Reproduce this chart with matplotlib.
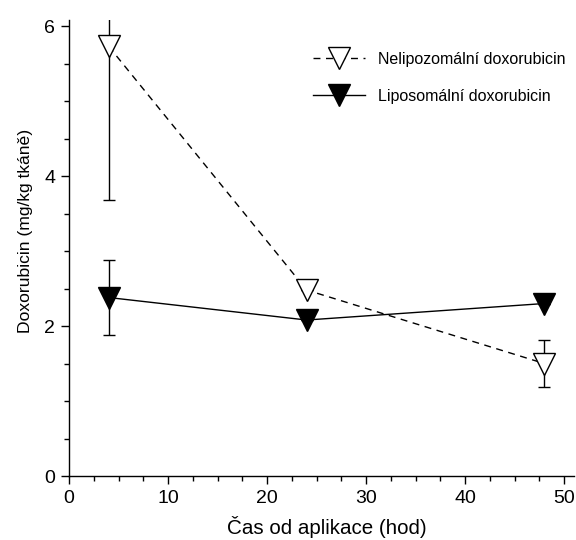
import matplotlib
matplotlib.use('Agg')
import matplotlib.pyplot as plt
from matplotlib.ticker import MultipleLocator
import numpy as np

plt.rcParams['font.family'] = ['Liberation Sans', 'DejaVu Sans']

# casy odberu (hod)
cas = [4, 24, 48]

# nelipozomalni doxorubicin
nelipo = [5.73, 2.48, 1.50]
nelipo_err = [2.05, 0.0, 0.31]

# liposomalni doxorubicin
lipo = [2.38, 2.08, 2.30]
lipo_err = [0.50, 0.0, 0.0]

fig = plt.figure(figsize=(5.76, 5.4), dpi=100)
ax = fig.add_axes([0.1198, 0.1185, 0.8767, 0.8444])

# chybove usecky zvlast (pod markery)
ax.errorbar(cas, nelipo, yerr=nelipo_err, fmt='none', ecolor='black',
            elinewidth=1, capsize=4.3, capthick=1, zorder=1)
ax.errorbar(cas, lipo, yerr=lipo_err, fmt='none', ecolor='black',
            elinewidth=1, capsize=4.3, capthick=1, zorder=1)

ax.plot(cas, nelipo, color='black', lw=1, ls=(0, (5, 4)), marker='v',
        ms=16.5, mfc='white', mec='black', mew=1,
        label='Nelipozomální doxorubicin', zorder=3)
ax.plot(cas, lipo, color='black', lw=1, ls='-', marker='v',
        ms=16.5, mfc='black', mec='black', mew=1,
        label='Liposomální doxorubicin', zorder=3)

ax.set_xlim(0, 51)
ax.set_ylim(0, 6.08)
ax.xaxis.set_major_locator(MultipleLocator(10))
ax.xaxis.set_minor_locator(MultipleLocator(2.5))
ax.yaxis.set_major_locator(MultipleLocator(2))
ax.yaxis.set_minor_locator(MultipleLocator(0.5))
ax.tick_params(which='major', direction='out', length=6, width=1, labelsize=14, pad=4)
ax.tick_params(which='minor', direction='out', length=3.5, width=1)

for s in ['top', 'right']:
    ax.spines[s].set_visible(False)
for s in ['left', 'bottom']:
    ax.spines[s].set_linewidth(1)

ax.set_xlabel('Čas od aplikace (hod)', fontsize=14.8)
ax.set_ylabel('Doxorubicin (mg/kg tkáně)', fontsize=12.6)
ax.xaxis.set_label_coords(0.511, -0.088)
ax.yaxis.set_label_coords(-0.072, 0.538)

ax.legend(loc='upper left', bbox_to_anchor=(0.5434, 0.9046),
          bbox_transform=fig.transFigure, frameon=False,
          fontsize=11.5, handlelength=3.25, handletextpad=0.82,
          labelspacing=1.38, borderaxespad=0, borderpad=0)

fig.savefig('out.png', dpi=100)
